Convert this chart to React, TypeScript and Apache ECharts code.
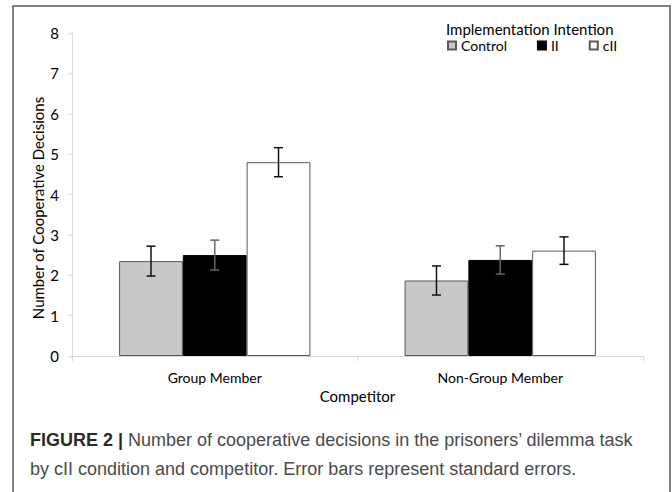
import React, { useEffect, useRef } from "react";
import * as echarts from "echarts";

const categories = ["Group Member", "Non-Group Member"];
const seriesNames = ["Control", "II", "cII"];
const controlValues = [2.35, 1.87];
const controlSE = [0.37, 0.36];
const iiValues = [2.5, 2.38];
const iiSE = [0.37, 0.35];
const ciiValues = [4.8, 2.61];
const ciiSE = [0.36, 0.34];
const yTicks = [0, 1, 2, 3, 4, 5, 6, 7, 8];
const yTitle = "Number of Cooperative Decisions";

const FONT = "Lato, 'Open Sans', sans-serif";
const CAP_FONT = "'Liberation Sans', Arial, sans-serif";
const GAP = 0.33;

export default function App() {
  const ref = useRef<HTMLDivElement>(null);
  useEffect(() => {
    if (!ref.current) return;
    const chart = echarts.init(ref.current, null, { renderer: "svg" });
    const values = [controlValues, iiValues, ciiValues];
    const ses = [controlSE, iiSE, ciiSE];
    const styles = [
      { color: "#c8c8c8", borderColor: "#595959", borderWidth: 1 },
      { color: "#000000", borderColor: "#000000", borderWidth: 1 },
      { color: "#ffffff", borderColor: "#595959", borderWidth: 1 },
    ];
    const errColors = ["#111", "#666", "#111"];
    const bars = seriesNames.map((name, k) => ({
      name,
      type: "bar",
      data: values[k],
      barCategoryGap: "33%",
      barGap: "0%",
      itemStyle: styles[k],
      z: 2,
    }));
    const errs = seriesNames.map((name, k) => ({
      name: name + " SE",
      type: "custom",
      z: 5,
      encode: { x: 0, y: 1 },
      data: categories.map((_, i) => [i, values[k][i], ses[k][i]]),
      renderItem: (params: any, api: any) => {
        const idx = api.value(0);
        const v = api.value(1);
        const se = api.value(2);
        const catW = api.size([1, 0])[0];
        const barW = (catW * (1 - GAP)) / 3;
        const c = api.coord([idx, v]);
        const x = c[0] + (k - 1) * barW;
        const top = api.coord([idx, v + se])[1];
        const bot = api.coord([idx, v - se])[1];
        const st = { stroke: errColors[k], lineWidth: 1.5 };
        return {
          type: "group",
          children: [
            { type: "line", shape: { x1: x, y1: top, x2: x, y2: bot }, style: st },
            { type: "line", shape: { x1: x - 4.5, y1: top, x2: x + 4.5, y2: top }, style: st },
            { type: "line", shape: { x1: x - 4.5, y1: bot, x2: x + 4.5, y2: bot }, style: st },
          ],
        };
      },
    }));
    chart.setOption({
      animation: false,
      backgroundColor: "#ffffff",
      grid: { left: 72, right: 29, top: 33, bottom: 136 },
      legend: {
        data: seriesNames,
        left: 447,
        top: 38,
        padding: 0,
        itemWidth: 8,
        itemHeight: 8,
        itemGap: 30,
        icon: "rect",
        textStyle: { fontFamily: FONT, fontSize: 14, color: "#000", lineHeight: 15 },
      },
      xAxis: {
        type: "category",
        data: categories,
        name: "Competitor",
        nameLocation: "middle",
        nameGap: 26,
        nameTextStyle: { fontFamily: FONT, fontSize: 15, color: "#000" },
        axisLine: { lineStyle: { color: "#d9d9d9", width: 1 } },
        axisTick: { show: true, length: 5, lineStyle: { color: "#d9d9d9" } },
        axisLabel: { fontFamily: FONT, fontSize: 14, color: "#000", margin: 14 },
      },
      yAxis: {
        type: "value",
        min: yTicks[0],
        max: yTicks[yTicks.length - 1],
        interval: 1,
        axisLine: { show: true, lineStyle: { color: "#d9d9d9", width: 1 } },
        axisTick: { show: true, length: 4, lineStyle: { color: "#d9d9d9" } },
        splitLine: { show: false },
        axisLabel: { fontFamily: FONT, fontSize: 15, color: "#000", margin: 13 },
      },
      graphic: [
        {
          type: "polyline",
          shape: { points: [[13, 492], [13, 6], [670, 6], [670, 492]] },
          style: { stroke: "#555", lineWidth: 1.5, fill: "none" },
        },
        {
          type: "text",
          x: 38,
          y: 208,
          rotation: Math.PI / 2,
          style: {
            text: yTitle,
            fontFamily: FONT,
            fontSize: 15,
            fill: "#000",
            align: "center",
            verticalAlign: "middle",
          },
        },
        {
          type: "text",
          x: 446,
          y: 29,
          style: {
            text: "Implementation Intention",
            fontFamily: FONT,
            fontSize: 15,
            lineHeight: 15,
            fill: "#000",
            verticalAlign: "middle",
          },
        },
        {
          type: "text",
          x: 30,
          y: 440,
          style: {
            text: "{b|FIGURE 2 |} Number of cooperative decisions in the prisoners’ dilemma task",
            fontFamily: CAP_FONT,
            fontSize: 18,
            fill: "#4a4a4a",
            verticalAlign: "middle",
            rich: {
              b: { fontFamily: CAP_FONT, fontSize: 18, fontWeight: "bold", fill: "#2a2a2a" },
            },
          },
        },
        {
          type: "text",
          x: 30,
          y: 469,
          style: {
            text: "by cII condition and competitor. Error bars represent standard errors.",
            fontFamily: CAP_FONT,
            fontSize: 18,
            fill: "#4a4a4a",
            verticalAlign: "middle",
          },
        },
      ],
      series: [...bars, ...errs],
    });
    return () => chart.dispose();
  }, []);
  return (
    <div
      ref={ref}
      style={{ position: "absolute", left: 0, top: 0, width: 672, height: 492 }}
    />
  );
}
